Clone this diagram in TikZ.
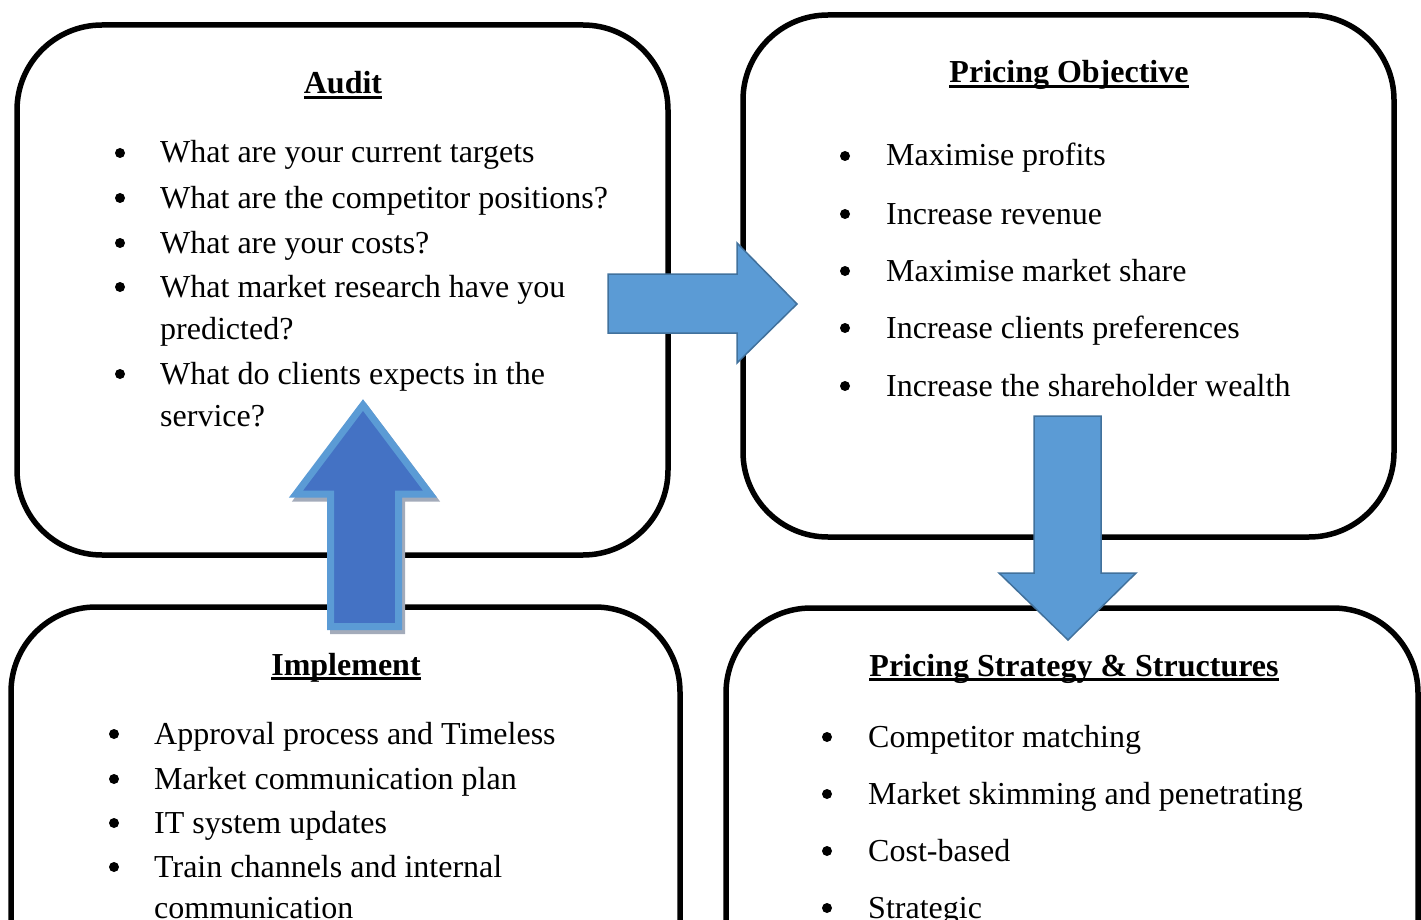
\documentclass[tikz,border=0pt]{standalone}
\usepackage{fontspec}
\setmainfont{Liberation Serif}
\definecolor{arrowfill}{HTML}{5B9BD5}
\definecolor{arrowline}{HTML}{41719C}
\definecolor{upfill}{HTML}{4472C4}
\definecolor{upshadow}{HTML}{A3ABBA}
% heading text with a Word-style underline through the descenders
\newcommand\headul[1]{\setbox0=\hbox{#1}\rlap{\rule[-5pt]{\wd0}{2.8pt}}\box0}
\begin{document}
\begin{tikzpicture}[x=1pt,y=-1pt,
  panel/.style={draw=black,line width=5.5pt,rounded corners=85pt},
  heading/.style={anchor=base,inner sep=0pt,font=\fontsize{32}{40}\selectfont\bfseries},
  item/.style={anchor=base west,inner sep=0pt,font=\fontsize{32}{42}\selectfont,align=left},
  dot/.style={circle,fill=black,inner sep=0pt,minimum size=10pt,yshift=10pt},
  blockarrow/.style={fill=arrowfill,draw=arrowline,line width=1.5pt,line join=miter},
]
\useasboundingbox (0,0) rectangle (1421,920);
\clip (0,0) rectangle (1421,920);

% ---- panels ----
\draw[panel] (17,25) rectangle (668,555);
\draw[panel] (743,15) rectangle (1394,537);
\draw[panel] (11,607) rectangle (680,1100);
\draw[panel] (726,608) rectangle (1418,1100);

% ---- Audit ----
\node[heading] (auditT) at (343,94) {\headul{Audit}};
\foreach \y/\t [count=\i] in {163/What are your current targets,
    208/What are the competitor positions?,
    253/What are your costs?,
    297/What market research have you,
    384/What do clients expects in the}{
  \node[dot] (auditB\i) at (120,\y) {};
  \node[item] (auditI\i) at (160,\y) {\t};
}
\node[item] (auditI4b) at (160,339) {predicted?};
\node[item] (auditI5b) at (160,426) {service?};

% ---- Pricing Objective ----
\node[heading] (objT) at (1069,83) {\headul{Pricing Objective}};
\foreach \y/\t [count=\i] in {166/Maximise profits,
    224/Increase revenue,
    281/Maximise market share,
    338/Increase clients preferences,
    396/Increase the shareholder wealth}{
  \node[dot] (objB\i) at (845,\y) {};
  \node[item] (objI\i) at (886,\y) {\t};
}

% ---- Implement ----
\node[heading] (implT) at (346,675) {\headul{Implement}};
\foreach \y/\t [count=\i] in {744/Approval process and Timeless,
    789/Market communication plan,
    833/IT system updates,
    877/Train channels and internal}{
  \node[dot] (implB\i) at (114,\y) {};
  \node[item] (implI\i) at (154,\y) {\t};
}
\node[item] (implI4b) at (154,918) {communication};

% ---- Pricing Strategy & Structures ----
\node[heading] (stratT) at (1074,676) {\headul{Pricing Strategy \& Structures}};
\foreach \y/\t [count=\i] in {747/Competitor matching,
    804/Market skimming and penetrating,
    861/Cost-based,
    918/Strategic}{
  \node[dot] (stratB\i) at (827,\y) {};
  \node[item] (stratI\i) at (868,\y) {\t};
}

% ---- block arrows ----
% Audit -> Pricing Objective
\draw[blockarrow] (608,274) -- (737,274) -- (737,243) -- (797,304)
  -- (737,363) -- (737,333) -- (608,333) -- cycle;
% Pricing Objective -> Pricing Strategy
\draw[blockarrow] (1034,416) -- (1101,416) -- (1101,573) -- (1136,573)
  -- (1068,640) -- (999,573) -- (1034,573) -- cycle;
% Implement -> Audit (with soft shadow)
\draw[fill=upshadow,draw=upshadow,line width=7pt,line join=miter,shift={(3,4)}]
  (363,405) -- (430,494) -- (398.5,494) -- (398.5,626.5)
  -- (330.5,626.5) -- (330.5,494) -- (296,494) -- cycle;
\draw[fill=upfill,draw=arrowfill,line width=7pt,line join=miter]
  (363,405) -- (430,494) -- (398.5,494) -- (398.5,626.5)
  -- (330.5,626.5) -- (330.5,494) -- (296,494) -- cycle;
\end{tikzpicture}
\end{document}
